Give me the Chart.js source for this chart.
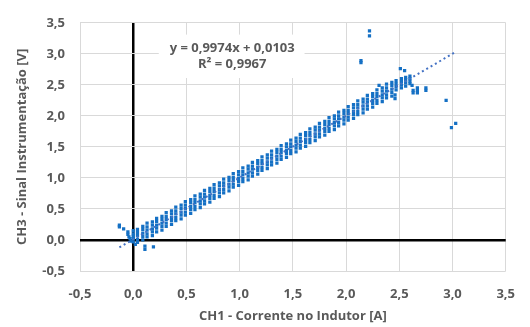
<!DOCTYPE html>
<html lang="pt">
<head>
<meta charset="UTF-8">
<title>CH3 x CH1</title>
<style>
    html, body { margin: 0; padding: 0; background: #fff; }
    #chart { display: block; }
</style>
<script src="https://cdn.jsdelivr.net/npm/chart.js"></script>
</head>
<body>
<canvas id="chart" width="530" height="327"></canvas>
<script>
// colunas de amostras (CH1 em A) e os valores de CH3 (V) lidos em cada uma
const colX = [0.00, 0.04, 0.09, 0.13, 0.18, 0.22, 0.27, 0.31, 0.36, 0.40,
    0.45, 0.49, 0.54, 0.58, 0.63, 0.67, 0.72, 0.76, 0.81, 0.85,
    0.90, 0.94, 0.99, 1.03, 1.08, 1.12, 1.17, 1.21, 1.26, 1.30,
    1.35, 1.39, 1.44, 1.48, 1.53, 1.57, 1.62, 1.66, 1.71, 1.75,
    1.80, 1.84, 1.89, 1.93, 1.98, 2.02, 2.07, 2.11, 2.16, 2.20,
    2.25, 2.29, 2.34, 2.38, 2.43, 2.47, 2.52, 2.56, 2.60];
const colY = [
    [-0.03, 0.02, 0.06, 0.10, 0.15], [-0.04, 0.01, 0.07, 0.12, 0.17],
    [0.00, 0.06, 0.11, 0.17, 0.22], [0.05, 0.10, 0.16, 0.21, 0.27],
    [0.07, 0.13, 0.18, 0.24, 0.29], [0.13, 0.19, 0.24, 0.30, 0.35],
    [0.16, 0.22, 0.27, 0.33, 0.38], [0.22, 0.27, 0.33, 0.38, 0.44],
    [0.25, 0.31, 0.36, 0.42, 0.47], [0.31, 0.36, 0.42, 0.47, 0.53],
    [0.34, 0.40, 0.45, 0.51, 0.56], [0.40, 0.45, 0.51, 0.56, 0.62],
    [0.43, 0.49, 0.54, 0.60, 0.65], [0.49, 0.54, 0.60, 0.65, 0.71],
    [0.52, 0.58, 0.63, 0.69, 0.74], [0.58, 0.63, 0.69, 0.74, 0.80],
    [0.61, 0.67, 0.72, 0.78, 0.83], [0.67, 0.72, 0.78, 0.83, 0.89],
    [0.70, 0.76, 0.81, 0.87, 0.92], [0.76, 0.81, 0.87, 0.92, 0.98],
    [0.79, 0.85, 0.90, 0.96, 1.01], [0.85, 0.90, 0.96, 1.01, 1.07],
    [0.88, 0.94, 0.99, 1.05, 1.10], [0.94, 0.99, 1.05, 1.10, 1.16],
    [0.97, 1.03, 1.08, 1.14, 1.19], [1.03, 1.08, 1.14, 1.19, 1.25],
    [1.06, 1.12, 1.17, 1.23, 1.28], [1.12, 1.17, 1.23, 1.28, 1.34],
    [1.15, 1.21, 1.26, 1.32, 1.37], [1.21, 1.26, 1.32, 1.37, 1.43],
    [1.24, 1.30, 1.35, 1.41, 1.46], [1.30, 1.35, 1.41, 1.46, 1.52],
    [1.33, 1.39, 1.44, 1.50, 1.55], [1.39, 1.44, 1.50, 1.55, 1.61],
    [1.42, 1.48, 1.53, 1.59, 1.64], [1.48, 1.53, 1.59, 1.64, 1.70],
    [1.51, 1.57, 1.62, 1.68, 1.73], [1.57, 1.62, 1.68, 1.73, 1.79],
    [1.60, 1.66, 1.71, 1.77, 1.82], [1.66, 1.71, 1.77, 1.82, 1.88],
    [1.69, 1.75, 1.80, 1.86, 1.91], [1.75, 1.80, 1.86, 1.91, 1.97],
    [1.78, 1.84, 1.89, 1.95, 2.00], [1.84, 1.89, 1.95, 2.00, 2.06],
    [1.87, 1.93, 1.98, 2.04, 2.09], [1.93, 1.98, 2.04, 2.09, 2.15],
    [1.96, 2.02, 2.07, 2.13, 2.18], [2.02, 2.07, 2.13, 2.18, 2.24],
    [2.05, 2.11, 2.16, 2.22, 2.27], [2.11, 2.16, 2.22, 2.27, 2.33],
    [2.14, 2.20, 2.25, 2.31, 2.36], [2.20, 2.25, 2.31, 2.36, 2.42],
    [2.23, 2.29, 2.34, 2.40, 2.45], [2.29, 2.34, 2.40, 2.45, 2.51],
    [2.32, 2.38, 2.43, 2.49, 2.54], [2.42, 2.47, 2.52, 2.57],
    [2.45, 2.50, 2.55, 2.60], [2.48, 2.53, 2.58, 2.62],
    [2.52, 2.56, 2.60, 2.64]
];
// pontos soltos fora da faixa
const outX = [-0.13, -0.13, -0.09, -0.05, -0.05, -0.04, -0.03, -0.02, 0.02, 0.11, 0.11, 0.19,
    2.22, 2.22, 2.14, 2.14, 2.51, 2.55, 2.31, 2.62, 2.63, 2.63, 2.67, 2.67, 2.67,
    2.75, 2.75, 2.94, 2.99, 3.03, 2.46, 2.46];
const outY = [0.24, 0.21, 0.18, 0.13, 0.09, 0.05, 0.02, -0.02, -0.07, -0.10, -0.15, -0.11,
    3.37, 3.29, 2.89, 2.86, 2.76, 2.73, 2.49, 2.49, 2.41, 2.37, 2.45, 2.41, 2.37,
    2.45, 2.41, 2.25, 1.81, 1.88, 2.34, 2.28];
// linha de tendência (extremos)
const trendX = [-0.13, 3.03];
const trendY = [-0.12, 3.03];
const equation = ['y = 0,9974x + 0,0103', 'R² = 0,9967'];

const pts = [];
colX.forEach((x, i) => colY[i].forEach(y => pts.push({ x: x, y: y })));
outX.forEach((x, i) => pts.push({ x: x, y: outY[i] }));
const trend = trendX.map((x, i) => ({ x: x, y: trendY[i] }));

const grey = '#595959';
const tickFont = { family: 'Open Sans', size: 13, weight: 'bold' };
const fmt = v => v.toFixed(1).replace('.', ',');

const gridColor = c => c.tick && Math.abs(c.tick.value) < 1e-9 ? '#000' : '#d9d9d9';
const gridWidth = c => c.tick && Math.abs(c.tick.value) < 1e-9 ? 2.5 : 1;

const eqLabel = {
    id: 'eqLabel',
    beforeDatasetsDraw(chart) {
        const { ctx, scales: { x, y } } = chart;
        const l = x.getPixelForValue(0.24), r = x.getPixelForValue(1.61);
        const t = y.getPixelForValue(3.31), b = y.getPixelForValue(2.61);
        ctx.save();
        ctx.fillStyle = '#fff';
        ctx.fillRect(l, t, r - l, b - t);
        ctx.fillStyle = grey;
        ctx.font = 'bold 13px "Open Sans"';
        ctx.textAlign = 'center';
        ctx.textBaseline = 'middle';
        const cx = x.getPixelForValue(0.93);
        ctx.fillText(equation[0], cx, y.getPixelForValue(3.09));
        ctx.fillText(equation[1], cx, y.getPixelForValue(2.83));
        ctx.restore();
    }
};

new Chart(document.getElementById('chart').getContext('2d'), {
    type: 'scatter',
    data: {
        datasets: [{
            label: 'Tendência',
            data: trend,
            showLine: true,
            borderColor: '#4472c4',
            borderWidth: 2,
            borderDash: [2, 3],
            pointRadius: 0,
            order: 0
        }, {
            label: 'CH3',
            data: pts,
            pointStyle: 'rect',
            pointRadius: 2.3,
            borderWidth: 0,
            backgroundColor: '#1570c4',
            order: 1
        }]
    },
    options: {
        responsive: false,
        animation: false,
        devicePixelRatio: 1,
        layout: { padding: { top: 13, right: 22, left: 0, bottom: 0 } },
        plugins: { legend: { display: false }, tooltip: { enabled: false } },
        scales: {
            x: {
                type: 'linear', min: -0.5, max: 3.5,
                afterFit: s => { s.height = 56; },
                border: { display: false },
                grid: { color: gridColor, lineWidth: gridWidth, drawTicks: false },
                ticks: { stepSize: 0.5, callback: fmt, font: tickFont, color: grey, padding: 15 },
                title: { display: true, text: 'CH1 - Corrente no Indutor [A]', font: tickFont, color: grey, padding: { top: 0, bottom: 3 } }
            },
            y: {
                type: 'linear', min: -0.5, max: 3.5,
                afterFit: s => { s.width = 80; },
                border: { display: false },
                grid: { color: gridColor, lineWidth: gridWidth, drawTicks: false },
                ticks: { stepSize: 0.5, callback: fmt, font: tickFont, color: grey, padding: 15 },
                title: { display: true, text: 'CH3 - Sinal Instrumentação [V]', font: tickFont, color: grey, padding: { top: 14, bottom: 0 } }
            }
        }
    },
    plugins: [eqLabel]
});
</script>
</body>
</html>
